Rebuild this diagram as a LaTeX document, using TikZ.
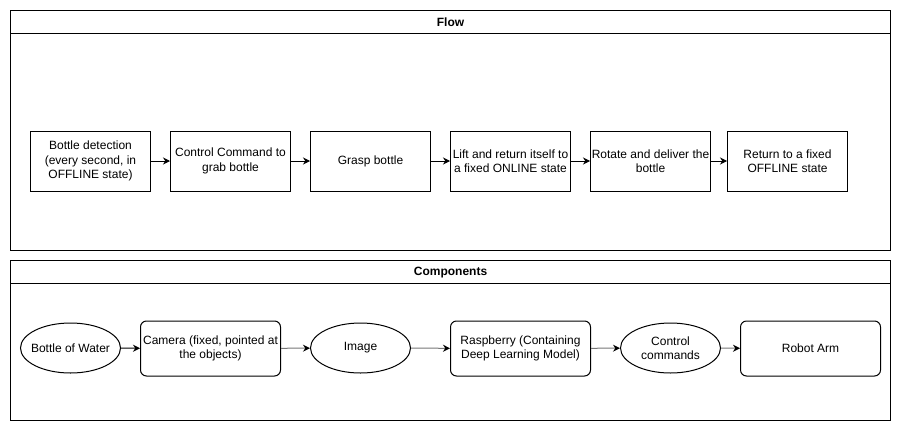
\documentclass[tikz,border=0pt]{standalone}
\usepackage{fontspec}
\setmainfont{Liberation Sans}
\usetikzlibrary{shapes.geometric,arrows.meta}
\definecolor{linegray}{HTML}{777777}
\begin{document}
\begin{tikzpicture}[x=1pt,y=-1pt,
  every node/.style={font=\fontsize{12}{14.5}\selectfont, align=center, inner sep=0pt},
  container/.style={draw, line width=1pt},
  flowbox/.style={draw, line width=1pt, minimum width=120pt, minimum height=60pt},
  compbox/.style={draw, line width=1pt, rounded corners=6pt, minimum width=140pt, minimum height=55pt},
  compell/.style={draw, line width=1pt, ellipse, minimum width=100pt, minimum height=50pt},
  arr/.style={line width=1pt, -{Stealth[length=7pt,width=7pt]}},
  garr/.style={arr, draw=linegray, -{Stealth[length=7pt,width=7pt,color=black]}},
  title/.style={font=\fontsize{12}{14}\selectfont\bfseries}
]
\useasboundingbox (0,0) rectangle (901,431);
% Flow container
\draw[container] (10.5,10.5) rectangle (890.5,250.5);
\draw[container] (10.5,33.5) -- (890.5,33.5);
\node[title] (flowtitle) at (450.5,22.5) {Flow};
% Components container
\draw[container] (10.5,260.5) rectangle (890.5,420.5);
\draw[container] (10.5,283.5) -- (890.5,283.5);
\node[title] (comptitle) at (450.5,272.5) {Components};
% Flow boxes
\node[flowbox] (f1) at (90.5,161) {Bottle detection\\(every second, in\\OFFLINE state)};
\node[flowbox] (f2) at (230.5,161) {Control Command to\\grab bottle};
\node[flowbox] (f3) at (370.5,161) {Grasp bottle};
\node[flowbox] (f4) at (510.5,161) {Lift and return itself to\\a fixed ONLINE state};
\node[flowbox] (f5) at (650.5,161) {Rotate and deliver the\\bottle};
\node[flowbox] (f6) at (787.5,161) {Return to a fixed\\OFFLINE state};
\draw[arr] (f1) -- (f2);
\draw[arr] (f2) -- (f3);
\draw[arr] (f3) -- (f4);
\draw[arr] (f4) -- (f5);
\draw[arr] (f5) -- (f6);
% Components
\node[compell, label={center:Bottle of Water}] (c1) at (70.5,348) {};
\node[compbox] (c2) at (210.5,348.5) {Camera (fixed, pointed at\\the objects)};
\node[compell, label={center:Image}] (c3) at (360.5,348) {};
\node[compbox] (c4) at (520.5,348.5) {Raspberry (Containing\\Deep Learning Model)};
\node[compell, label={center:{Control\\commands}}] (c5) at (670.5,348) {};
\node[compbox] (c6) at (810.5,348.5) {Robot Arm};
\draw[arr] (c1) -- (c2);
\draw[garr] (c2) -- (c3);
\draw[garr] (c3) -- (c4);
\draw[garr] (c4) -- (c5);
\draw[garr] (c5) -- (c6);
\end{tikzpicture}
\end{document}
